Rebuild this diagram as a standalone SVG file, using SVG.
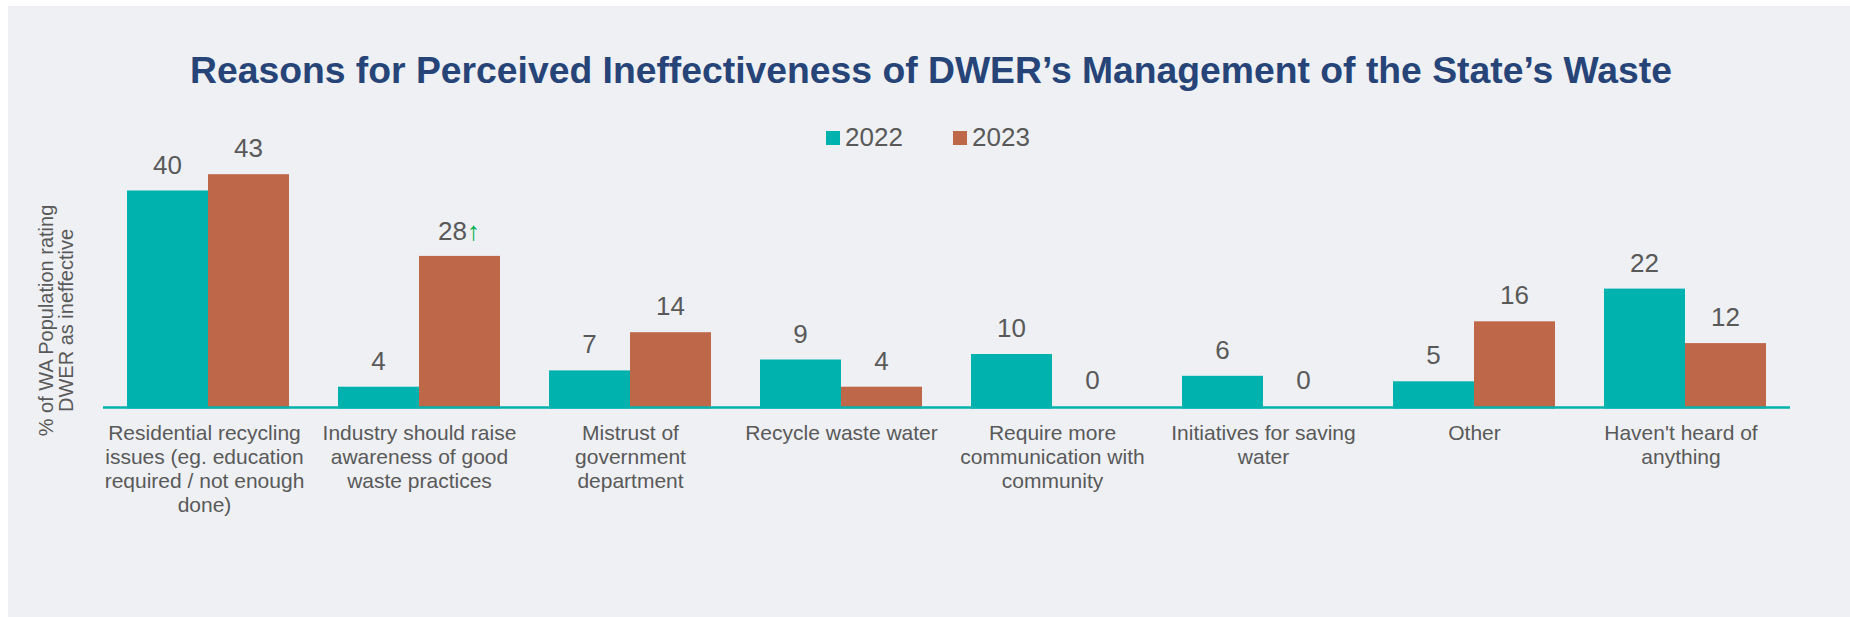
<svg xmlns="http://www.w3.org/2000/svg" width="1850" height="617" viewBox="0 0 1850 617">
<style>
.t22{fill:#00B2AE}
.t23{fill:#BF6849}
.val{font-family:"Liberation Sans",Arial,sans-serif;font-size:26px;fill:#595959;text-anchor:middle}
.cat{font-family:"Liberation Sans",Arial,sans-serif;font-size:21px;fill:#595959;text-anchor:middle}
.leg{font-family:"Liberation Sans",Arial,sans-serif;font-size:26px;fill:#595959}
.ax{font-family:"Liberation Sans",Arial,sans-serif;font-size:20px;fill:#595959;text-anchor:middle}
</style>
<rect width="1850" height="617" fill="#ffffff"/>
<rect x="8" y="6" width="1842" height="611" fill="#EEF0F4"/>
<text id="title" x="931" y="83" font-family="'Liberation Sans',Arial,sans-serif" font-size="37.3" font-weight="bold" fill="#264478" text-anchor="middle">Reasons for Perceived Ineffectiveness of DWER’s Management of the State’s Waste</text>
<g id="legend">
<rect class="t22" x="826" y="131" width="14" height="14"/>
<text class="leg" x="845" y="146">2022</text>
<rect class="t23" x="953" y="131" width="14" height="14"/>
<text class="leg" x="972" y="146">2023</text>
</g>
<g id="yaxis-label">
<text class="ax" transform="translate(53,320.5) rotate(-90)">% of WA Population rating</text>
<text class="ax" transform="translate(73,320.5) rotate(-90)">DWER as ineffective</text>
</g>
<g id="cat1">
<rect class="t22" x="127" y="190.5" width="81" height="218"/>
<rect class="t23" x="208" y="174.2" width="81" height="234.3"/>
<text class="val" x="167.5" y="173.5">40</text>
<text class="val" x="248.5" y="157">43</text>
<text class="cat" x="204.5" y="440">Residential recycling<tspan x="204.5" dy="24">issues (eg. education</tspan><tspan x="204.5" dy="24">required / not enough</tspan><tspan x="204.5" dy="24">done)</tspan></text>
</g>
<g id="cat2">
<rect class="t22" x="338" y="386.7" width="81" height="21.8"/>
<rect class="t23" x="419" y="255.9" width="81" height="152.6"/>
<text class="val" x="378.5" y="369.7">4</text>
<text class="val" x="459" y="240">28<tspan fill="#00B050">↑</tspan></text>
<text class="cat" x="419.5" y="440">Industry should raise<tspan x="419.5" dy="24">awareness of good</tspan><tspan x="419.5" dy="24">waste practices</tspan></text>
</g>
<g id="cat3">
<rect class="t22" x="549" y="370.4" width="81" height="38.1"/>
<rect class="t23" x="630" y="332.2" width="81" height="76.3"/>
<text class="val" x="589.5" y="353.4">7</text>
<text class="val" x="670.5" y="315.2">14</text>
<text class="cat" x="630.5" y="440">Mistrust of<tspan x="630.5" dy="24">government</tspan><tspan x="630.5" dy="24">department</tspan></text>
</g>
<g id="cat4">
<rect class="t22" x="760" y="359.5" width="81" height="49"/>
<rect class="t23" x="841" y="386.7" width="81" height="21.8"/>
<text class="val" x="800.5" y="342.5">9</text>
<text class="val" x="881.5" y="369.7">4</text>
<text class="cat" x="841.5" y="440">Recycle waste water</text>
</g>
<g id="cat5">
<rect class="t22" x="971" y="354" width="81" height="54.5"/>
<text class="val" x="1011.5" y="337">10</text>
<text class="val" x="1092.5" y="389">0</text>
<text class="cat" x="1052.5" y="440">Require more<tspan x="1052.5" dy="24">communication with</tspan><tspan x="1052.5" dy="24">community</tspan></text>
</g>
<g id="cat6">
<rect class="t22" x="1182" y="375.8" width="81" height="32.7"/>
<text class="val" x="1222.5" y="358.8">6</text>
<text class="val" x="1303.5" y="389">0</text>
<text class="cat" x="1263.5" y="440">Initiatives for saving<tspan x="1263.5" dy="24">water</tspan></text>
</g>
<g id="cat7">
<rect class="t22" x="1393" y="381.3" width="81" height="27.2"/>
<rect class="t23" x="1474" y="321.3" width="81" height="87.2"/>
<text class="val" x="1433.5" y="364.3">5</text>
<text class="val" x="1514.5" y="304.3">16</text>
<text class="cat" x="1474.5" y="440">Other</text>
</g>
<g id="cat8">
<rect class="t22" x="1604" y="288.6" width="81" height="119.9"/>
<rect class="t23" x="1685" y="343.1" width="81" height="65.4"/>
<text class="val" x="1644.5" y="271.6">22</text>
<text class="val" x="1725.5" y="326.1">12</text>
<text class="cat" x="1681" y="440">Haven't heard of<tspan x="1681" dy="24">anything</tspan></text>
</g>
<g id="connectors">
<line x1="103" y1="407.5" x2="1790" y2="407.5" stroke="#00B2AE" stroke-width="2.5"/>
</g>
</svg>
